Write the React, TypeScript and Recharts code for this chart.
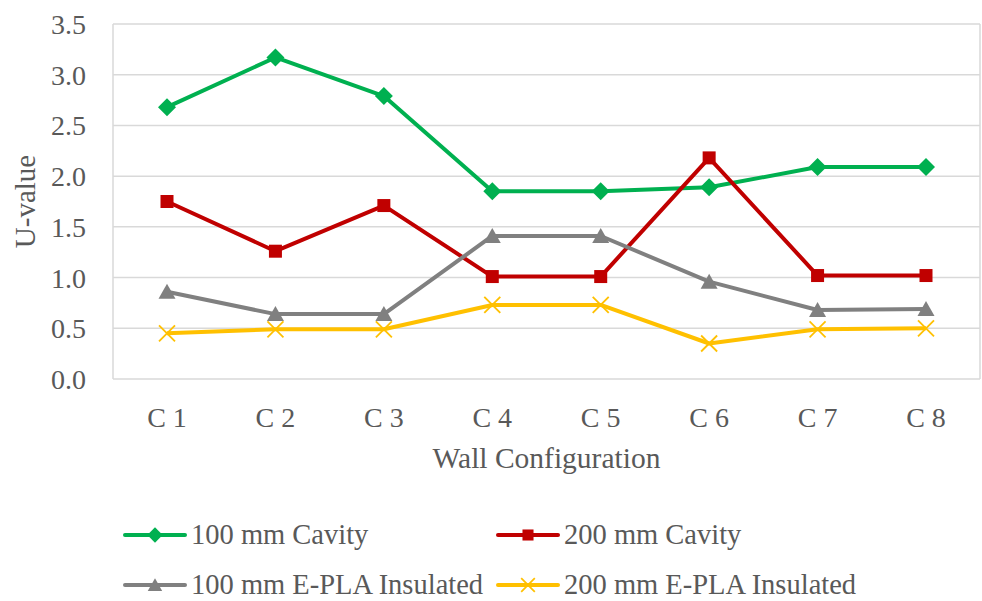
import React from "react";
import {
  LineChart,
  Line,
  XAxis,
  YAxis,
  CartesianGrid,
} from "recharts";

const categories = ["C 1", "C 2", "C 3", "C 4", "C 5", "C 6", "C 7", "C 8"];
const cavity100 = [2.68, 3.17, 2.79, 1.85, 1.85, 1.89, 2.09, 2.09];
const cavity200 = [1.75, 1.26, 1.71, 1.01, 1.01, 2.18, 1.02, 1.02];
const epla100 = [0.86, 0.64, 0.64, 1.41, 1.41, 0.96, 0.68, 0.69];
const epla200 = [0.45, 0.49, 0.49, 0.73, 0.73, 0.35, 0.49, 0.5];
const yTicks = [0, 0.5, 1, 1.5, 2, 2.5, 3, 3.5];
const bandEdges = [0, 1, 2, 3, 4, 5, 6, 7, 8];

const data = categories.map((c, i) => ({
  name: c,
  cavity100: cavity100[i],
  cavity200: cavity200[i],
  epla100: epla100[i],
  epla200: epla200[i],
}));

const FONT = "'Liberation Serif', 'Times New Roman', serif";
const TEXT = "#595959";

type Shape = "diamond" | "square" | "triangle" | "cross";

const series: { key: string; name: string; color: string; shape: Shape }[] = [
  { key: "cavity100", name: "100 mm Cavity", color: "#00B050", shape: "diamond" },
  { key: "cavity200", name: "200 mm Cavity", color: "#C00000", shape: "square" },
  { key: "epla100", name: "100 mm E-PLA Insulated", color: "#808080", shape: "triangle" },
  { key: "epla200", name: "200 mm E-PLA Insulated", color: "#FFC000", shape: "cross" },
];

function marker(shape: Shape, cx: number, cy: number, color: string, s = 1) {
  if (shape === "diamond") {
    const r = 9 * s;
    return (
      <polygon
        points={`${cx},${cy - r} ${cx + r},${cy} ${cx},${cy + r} ${cx - r},${cy}`}
        fill={color}
      />
    );
  }
  if (shape === "square") {
    const h = 6.5 * s;
    return <rect x={cx - h} y={cy - h} width={h * 2} height={h * 2} fill={color} />;
  }
  if (shape === "triangle") {
    const w = 8.5 * s;
    return (
      <polygon
        points={`${cx},${cy - 8 * s} ${cx + w},${cy + 7 * s} ${cx - w},${cy + 7 * s}`}
        fill={color}
      />
    );
  }
  const h = 8 * s;
  return (
    <g stroke={color} strokeWidth={1.8}>
      <line x1={cx - h} y1={cy - h} x2={cx + h} y2={cy + h} />
      <line x1={cx - h} y1={cy + h} x2={cx + h} y2={cy - h} />
    </g>
  );
}

function makeDot(shape: Shape, color: string) {
  return (props: any) => {
    const { cx, cy, index } = props;
    if (cx == null || cy == null) return <g key={index} />;
    return <g key={index}>{marker(shape, cx, cy, color)}</g>;
  };
}

function LegendItem({ s, left, top }: { s: (typeof series)[number]; left: number; top: number }) {
  return (
    <div
      style={{
        position: "absolute",
        left,
        top: top - 20,
        height: 40,
        display: "flex",
        alignItems: "center",
        whiteSpace: "nowrap",
      }}
    >
      <svg width={68} height={40} style={{ display: "block" }}>
        <line x1={2} y1={20} x2={62} y2={20} stroke={s.color} strokeWidth={4} strokeLinecap="round" />
        {marker(s.shape, 32, 20, s.color, 0.85)}
      </svg>
      <span style={{ fontFamily: FONT, fontSize: 28.5, color: TEXT }}>{s.name}</span>
    </div>
  );
}

export default function App() {
  return (
    <div style={{ position: "relative", width: 982, height: 601, background: "#fff" }}>
      <style>{`body { margin: 0; }`}</style>
      <LineChart
        width={982}
        height={480}
        data={data}
        margin={{ top: 24, right: 2, left: 0, bottom: 10 }}
      >
        <CartesianGrid xAxisId={0} stroke="#D9D9D9" strokeWidth={1.5} />
        {/* band edges: vertical grid lines + the short ticks below the axis */}
        <XAxis
          xAxisId={0}
          type="number"
          domain={[0, 8]}
          ticks={bandEdges}
          allowDataOverflow
          height={1}
          tick={false}
          tickSize={9}
          tickLine={{ stroke: "#D9D9D9", strokeWidth: 1.5 }}
          axisLine={false}
        />
        <XAxis
          xAxisId={1}
          dataKey="name"
          height={90}
          padding={{ left: 54, right: 54 }}
          axisLine={false}
          tickLine={false}
          tickSize={0}
          tickMargin={27}
          interval={0}
          tick={{ fill: TEXT, fontSize: 28, fontFamily: FONT }}
          label={{
            value: "Wall Configuration",
            position: "insideBottom",
            offset: 2,
            fill: TEXT,
            fontSize: 29.5,
            fontFamily: FONT,
          }}
        />
        <YAxis
          width={113}
          domain={[0, 3.5]}
          ticks={yTicks}
          axisLine={false}
          tickLine={false}
          tickSize={0}
          tickMargin={27}
          tickFormatter={(v: number) => v.toFixed(1)}
          tick={{ fill: TEXT, fontSize: 28, fontFamily: FONT }}
          label={{
            value: "U-value",
            angle: -90,
            position: "insideLeft",
            offset: 25,
            fill: TEXT,
            fontSize: 29,
            fontFamily: FONT,
            style: { textAnchor: "middle" },
          }}
        />
        {series.map((s) => (
          <Line
            key={s.key}
            xAxisId={1}
            type="linear"
            dataKey={s.key}
            name={s.name}
            stroke={s.color}
            strokeWidth={4}
            strokeLinejoin="round"
            dot={makeDot(s.shape, s.color)}
            activeDot={false}
            isAnimationActive={false}
          />
        ))}
      </LineChart>
      <LegendItem s={series[0]} left={123} top={535} />
      <LegendItem s={series[1]} left={496} top={535} />
      <LegendItem s={series[2]} left={123} top={585} />
      <LegendItem s={series[3]} left={496} top={585} />
    </div>
  );
}
